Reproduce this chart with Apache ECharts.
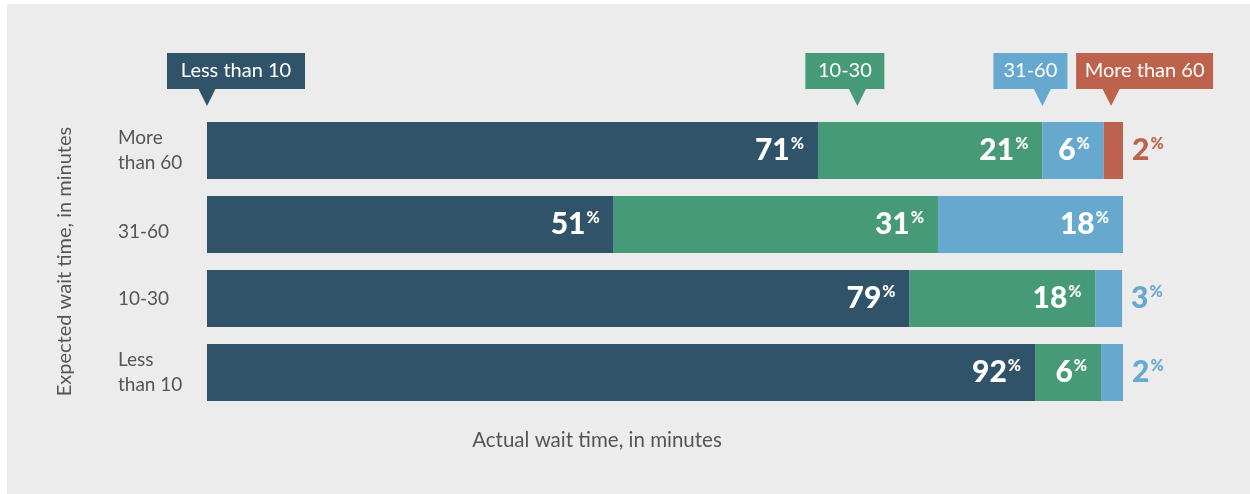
<!DOCTYPE html>
<html>
<head>
<meta charset="utf-8">
<script src="https://cdn.jsdelivr.net/npm/echarts@6/dist/echarts.min.js"></script>
<style>
html,body{margin:0;padding:0;background:#ffffff;}
#bg{position:absolute;left:7px;top:4px;right:0;bottom:0;background:#ececec;}
#chart{position:absolute;left:0;top:0;width:1250px;height:494px;}
</style>
</head>
<body>
<div id="bg"></div>
<div id="chart"></div>
<script>
// Expected wait time categories (top to bottom)
const categories = ['More than 60', '31-60', '10-30', 'Less than 10'];
// Actual wait time groups (series)
const seriesNames = ['Less than 10', '10-30', '31-60', 'More than 60'];
// Segment lengths as drawn (share of bar, %)
const lessThan10 = [66.7, 44.4, 76.7, 90.4];
const from10to30 = [24.5, 35.4, 20.3, 7.2];
const from31to60 = [6.7, 20.2, 2.9, 2.4];
const moreThan60 = [2.2, null, null, null];
// Printed percentage labels
const lblLessThan10 = [71, 51, 79, 92];
const lblFrom10to30 = [21, 31, 18, 6];
const lblFrom31to60 = [6, 18, 3, 2];
const lblMoreThan60 = [2, null, null, null];
// Where each legend callout points, on the 0-100 axis
const calloutAnchors = [0, 71, 91.2, 98.7];

const colors = ['#30536a', '#469a78', '#67a9ce', '#bd624d'];
const values = [lessThan10, from10to30, from31to60, moreThan60];
const labels = [lblLessThan10, lblFrom10to30, lblFrom31to60, lblMoreThan60];

const rich = {
  n: {fontFamily: 'Lato', fontWeight: 900, fontSize: 30, lineHeight: 30},
  p: {fontFamily: 'Lato', fontWeight: 900, fontSize: 16, lineHeight: 30, verticalAlign: 'top', padding: [0,0,12,1]}
};

const series = values.map((vals, si) => ({
  name: seriesNames[si],
  type: 'bar',
  stack: 'total',
  barWidth: 57,
  itemStyle: {color: colors[si]},
  data: vals.map((v, i) => {
    if (v == null) return null;
    const inside = v >= 5;
    return {
      value: v,
      label: {
        show: true,
        position: inside ? 'insideRight' : 'right',
        distance: inside ? 14 : 9,
        color: inside ? '#ffffff' : colors[si],
        formatter: '{n|' + labels[si][i] + '}{p|%}',
        rich: rich
      }
    };
  })
}));

const chart = echarts.init(document.getElementById('chart'), null, {renderer: 'canvas'});
chart.setOption({
  backgroundColor: 'transparent',
  animation: false,
  grid: {left: 207, right: 127, top: 113.5, bottom: 84.5, containLabel: false},
  xAxis: {type: 'value', min: 0, max: 100, show: false},
  yAxis: {
    type: 'category',
    inverse: true,
    data: categories,
    axisLine: {show: false},
    axisTick: {show: false},
    axisLabel: {
      align: 'left',
      margin: 89,
      fontFamily: 'Lato',
      fontSize: 19,
      lineHeight: 25,
      color: '#555555',
      formatter: v => v.indexOf(' than ') >= 0 ? v.replace(' than ', '\nthan ')
        : (v === '31-60' ? '{low|' + v + '}' : v),
      rich: {
        low: {fontFamily: 'Lato', fontSize: 19, lineHeight: 25, color: '#555555', padding: [14, 0, 0, 0]}
      }
    },
    name: 'Expected wait time, in minutes',
    nameLocation: 'middle',
    nameRotate: 90,
    nameGap: 132,
    nameTextStyle: {fontFamily: 'Lato', fontSize: 20, color: '#555555'}
  },
  series: series
});

// Legend callouts
const calloutW = [138, 79, 74, 137];
const calloutOff = [40, 52, 49, 35];
const graphics = [];
seriesNames.forEach((name, si) => {
  const tip = chart.convertToPixel({xAxisIndex: 0}, calloutAnchors[si]);
  const left = tip - calloutOff[si];
  const top = 53, h = 36, tipY = 106;
  graphics.push({
    type: 'rect', shape: {x: left, y: top, width: calloutW[si], height: h},
    style: {fill: colors[si]}, silent: true
  });
  graphics.push({
    type: 'polygon', shape: {points: [[tip - 9, top + h - 1], [tip + 9, top + h - 1], [tip, tipY]]},
    style: {fill: colors[si]}, silent: true
  });
  graphics.push({
    type: 'text', x: left + calloutW[si] / 2, y: top + h / 2,
    style: {text: name, fill: '#ffffff', font: '20px Lato', align: 'center', verticalAlign: 'middle'},
    silent: true
  });
});
graphics.push({
  type: 'text', x: 597, y: 440,
  style: {text: 'Actual wait time, in minutes', fill: '#555555', font: '20.5px Lato', align: 'center', verticalAlign: 'middle'},
  silent: true
});
chart.setOption({graphic: graphics});
</script>
</body>
</html>
